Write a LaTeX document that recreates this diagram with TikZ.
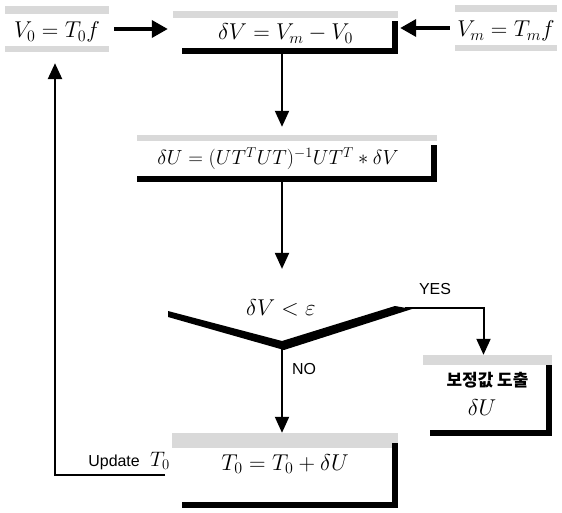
\RequirePackage{fix-cm}
\documentclass[tikz,border=0pt]{standalone}
\usepackage{fontspec}
\newfontfamily\sansf{Liberation Sans}
\newfontfamily\kofont{Noto Sans CJK KR}
\usetikzlibrary{arrows.meta}
\tikzset{
  box/.style={inner sep=0pt, anchor=base, font=\fontsize{23}{27}\selectfont},
  strip/.style={fill=gray!30},
  bar/.style={fill=black},
  flowh/.style={-{Triangle[length=16bp,width=17bp]}, line width=3.5bp},
  flowv/.style={-{Triangle[length=16bp,width=14bp]}, line width=2bp},
  tag/.style={inner sep=0pt, font=\sansf\fontsize{16}{18}\selectfont},
}
\begin{document}
\begin{tikzpicture}[x=1bp, y=-1bp]
\useasboundingbox (0,0) rectangle (562,513);
% boxes
\node[box, minimum width=104bp, text height=32bp, text depth=14bp] (v0) at (57,38) {$V_0 = T_0 f$};
\node[box, minimum width=225bp, text height=29bp, text depth=14bp] (dv) at (285.5,40) {$\delta V = V_m - V_0$};
\node[box, minimum width=102bp, text height=32bp, text depth=14bp] (vm) at (506,37) {$V_m = T_m f$};
\node[box, minimum width=300bp, text height=30bp, text depth=17bp, font=\fontsize{20.5}{25}\selectfont] (du) at (287,165) {$\delta U = (UT^T UT)^{-1} UT^T * \delta V$\hspace*{18bp}};
\node[box, minimum width=226bp, text height=37bp, text depth=38bp] (t0) at (285,470) {$T_0 = T_0 + \delta U$};
\node[box, minimum width=129bp, text height=31bp, text depth=50bp, font=\kofont\bfseries\fontsize{17}{20}\selectfont] (res) at (487.5,386) {보정값 도출};
\node[box] (resu) at (482,415) {$\delta U$};
\node[box] (test) at (281,315) {$\delta V < \varepsilon$};
\node[tag, anchor=base east] (upd) at (140,466) {Update};
\node[box, font=\fontsize{21}{25}\selectfont] (updt) at (160,466) {$T_0$};
\node[tag, anchor=base] (yeslbl) at (435,294) {YES};
\node[tag, anchor=base west] (nolbl) at (292,374) {NO};
\coordinate (vtx) at (282,345);
\coordinate (yes) at (405,308);
\coordinate (back) at (165,475);
% gray strips and shadows
\foreach \n/\h in {v0/8,dv/7,du/6,t0/15,res/10}
  \fill[strip] (\n.north west) rectangle ([yshift=-\h bp]\n.north east);
\foreach \n in {v0,vm}
  \fill[strip] ([yshift=6bp]\n.south west) rectangle (\n.south east);
\fill[strip] (vm.north west) rectangle ([yshift=-7bp]vm.north east);
\foreach \n/\i in {dv/9,du/0,t0/10,res/7} {
  \fill[bar] ([xshift=\i bp, yshift=6bp]\n.south west) rectangle (\n.south east);
  \fill[bar] ([xshift=-6bp, yshift=-10bp]\n.north east) rectangle (\n.south east);
}
% decision
\fill (168,311) -- (282,341) -- (395,306) -- (412,309) -- (284,350) -- (168,317) -- cycle;
% connectors
\draw[flowh, shorten <=5bp, shorten >=5bp] (v0.east) -- (v0.east -| dv.west);
\draw[flowh, shorten <=5bp, shorten >=2bp] (vm.west) -- (vm.west -| dv.east);
\draw[flowv, shorten >=8bp] (dv.south -| vtx) -- (du.north -| vtx);
\draw[flowv, shorten >=30bp] (du.south -| vtx) -- (test.north -| vtx);
\draw[flowv] (vtx) -- (vtx |- t0.north);
\draw[flowv] (yes) -| ([xshift=-4bp]res.north);
\draw[flowv, line width=2.5bp, shorten >=11bp] (back) -| ([xshift=-2bp]v0.south);
\end{tikzpicture}
\end{document}
